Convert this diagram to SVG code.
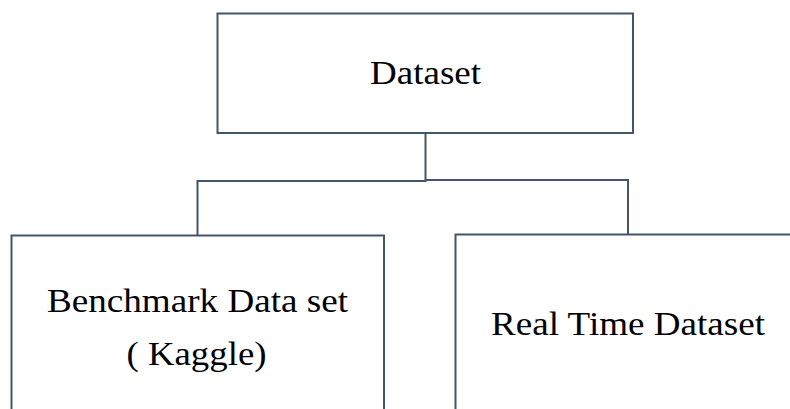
<svg xmlns="http://www.w3.org/2000/svg" width="790" height="409" viewBox="0 0 790 409">
  <style>
    .box { fill: #ffffff; stroke: #44546a; stroke-width: 2; }
    .wire { fill: none; stroke: #44546a; stroke-width: 2; }
    .label { font-family: "Liberation Serif", "Times New Roman", serif; font-size: 33px; fill: #000000; text-anchor: middle; }
  </style>
  <rect x="0" y="0" width="790" height="409" fill="#ffffff"/>

  <!-- tree connectors -->
  <g id="connectors">
    <path class="wire" d="M425.5,133 V181 H197.5 V236"/>
    <path class="wire" d="M425.5,180 H628 V235"/>
  </g>

  <g id="node-dataset">
    <rect class="box" x="217.5" y="13.5" width="415.5" height="119.5"/>
    <text class="label" x="425.5" y="84" textLength="111" lengthAdjust="spacingAndGlyphs">Dataset</text>
  </g>

  <g id="node-benchmark">
    <rect class="box" x="11.5" y="235.5" width="372.5" height="190"/>
    <text class="label" x="197.5" y="312" textLength="301" lengthAdjust="spacingAndGlyphs">Benchmark Data set</text>
    <text class="label" x="196.5" y="365" textLength="140" lengthAdjust="spacingAndGlyphs">( Kaggle)</text>
  </g>

  <g id="node-realtime">
    <rect class="box" x="455.5" y="234.5" width="350" height="190"/>
    <text class="label" x="628" y="335" textLength="274" lengthAdjust="spacingAndGlyphs">Real Time Dataset</text>
  </g>
</svg>
